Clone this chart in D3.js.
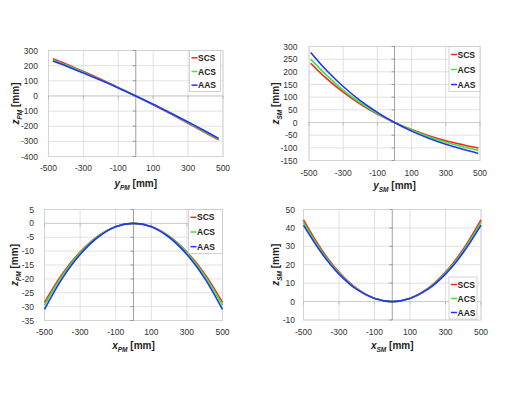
<!DOCTYPE html>
<html>
<head>
<meta charset="utf-8">
<script src="https://cdn.jsdelivr.net/npm/d3@7"></script>
<style>
  body { margin: 0; background: #fff; }
  svg { display: block; font-family: "Liberation Sans", Arial, sans-serif; }
</style>
</head>
<body>
<div id="chart"></div>
<script>
// Series names and colours
const seriesNames = ["SCS", "ACS", "AAS"];
const seriesColors = ["#ff2020", "#33ee33", "#2233ff"];

// Panel 1: z_PM vs y_PM
const pmYPos = [-475, -400, -300, -200, -100, 0, 100, 200, 300, 400, 475];
const pmYScs = [245, 211, 161, 110, 56, 0, -58, -118, -180, -244, -290];
const pmYAcs = [238, 204, 156, 106, 54, 0, -56, -115, -176, -238, -285];
const pmYAas = [230, 198, 151, 103, 53, 0, -55, -113, -172, -233, -280];

// Panel 2: z_SM vs y_SM
const smYPos = [-490, -400, -300, -200, -100, 0, 100, 200, 300, 400, 490];
const smYScs = [234, 175, 120, 73, 33, 0, -28, -52, -72, -88, -101];
const smYAcs = [250, 188, 128, 78, 36, 0, -30, -56, -78, -96, -110];
const smYAas = [276, 207, 142, 86, 40, 0, -34, -62, -86, -106, -122];

// Panel 3: z_PM vs x_PM
const pmXPos = [-500, -400, -300, -200, -100, 0, 100, 200, 300, 400, 500];
const pmXScs = [-28.5, -18.2, -10.3, -4.6, -1.1, 0, -1.1, -4.6, -10.3, -18.2, -28.5];
const pmXAcs = [-29.5, -18.9, -10.6, -4.7, -1.2, 0, -1.2, -4.7, -10.6, -18.9, -29.5];
const pmXAas = [-31, -19.8, -11.2, -5.0, -1.2, 0, -1.2, -5.0, -11.2, -19.8, -31];

// Panel 4: z_SM vs x_SM
const smXPos = [-500, -400, -300, -200, -100, 0, 100, 200, 300, 400, 500];
const smXScs = [44.3, 28.4, 16.0, 7.1, 1.8, 0, 1.8, 7.1, 16.0, 28.4, 44.3];
const smXAcs = [43, 27.5, 15.5, 6.9, 1.7, 0, 1.7, 6.9, 15.5, 27.5, 43];
const smXAas = [41.5, 26.6, 14.9, 6.6, 1.7, 0, 1.7, 6.6, 14.9, 26.6, 41.5];

// Tick values
const xTicks = [-500, -300, -100, 100, 300, 500];
const yTicks1 = [300, 200, 100, 0, -100, -200, -300, -400];
const yTicks2 = [300, 250, 200, 150, 100, 50, 0, -50, -100, -150];
const yTicks3 = [5, 0, -5, -10, -15, -20, -25, -30, -35];
const yTicks4 = [50, 40, 30, 20, 10, 0, -10];

const svg = d3.select("#chart").append("svg")
  .attr("width", 526)
  .attr("height", 395);

const panels = [
  { box: [48.5, 223, 50.5, 156.5], yDom: [-400, 300], yTicks: yTicks1,
    xs: pmYPos, ys: [pmYScs, pmYAcs, pmYAas], xVar: "y", yVar: "z", sub: "PM",
    yLabelRight: 38, xLabelY: 171, xTitleY: 187, yTitleX: 19,
    legend: [189.5, 50.5, 31, 41] },
  { box: [309, 480, 46.5, 160.5], yDom: [-150, 300], yTicks: yTicks2,
    xs: smYPos, ys: [smYScs, smYAcs, smYAas], xVar: "y", yVar: "z", sub: "SM",
    yLabelRight: 297.5, xLabelY: 176, xTitleY: 189, yTitleX: 279,
    legend: [449, 46.5, 31, 45] },
  { box: [44.5, 222.5, 209.5, 320.5], yDom: [-35, 5], yTicks: yTicks3,
    xs: pmXPos, ys: [pmXScs, pmXAcs, pmXAas], xVar: "x", yVar: "z", sub: "PM",
    yLabelRight: 34, xLabelY: 334.5, xTitleY: 349, yTitleX: 18,
    legend: [188.5, 209.5, 34, 44] },
  { box: [303.5, 481, 209.5, 320], yDom: [-10, 50], yTicks: yTicks4,
    xs: smXPos, ys: [smXScs, smXAcs, smXAas], xVar: "x", yVar: "z", sub: "SM",
    yLabelRight: 295, xLabelY: 334.5, xTitleY: 349, yTitleX: 279,
    legend: [449, 277, 28, 42] }
];

function axisTitle(sel, v, sub) {
  sel.append("tspan").attr("font-style", "italic").text(v);
  sel.append("tspan").attr("font-style", "italic").attr("font-size", "6.5px")
    .attr("dy", "2.5").text(sub);
  sel.append("tspan").attr("dy", "-2.5").text(" [mm]");
}

panels.forEach(p => {
  const [x0, x1, y0, y1] = p.box;
  const x = d3.scaleLinear().domain([-500, 500]).range([x0, x1]);
  const y = d3.scaleLinear().domain(p.yDom).range([y1, y0]);
  const g = svg.append("g");

  // gridlines
  g.selectAll(".hg").data(p.yTicks).enter().append("line")
    .attr("x1", x0).attr("x2", x1)
    .attr("y1", d => y(d)).attr("y2", d => y(d))
    .attr("stroke", "#d9d9d9").attr("stroke-width", 0.8);
  g.selectAll(".vg").data(xTicks).enter().append("line")
    .attr("x1", d => x(d)).attr("x2", d => x(d))
    .attr("y1", y0).attr("y2", y1)
    .attr("stroke", "#d9d9d9").attr("stroke-width", 0.8);

  // plot border
  g.append("rect")
    .attr("x", x0).attr("y", y0)
    .attr("width", x1 - x0).attr("height", y1 - y0)
    .attr("fill", "none").attr("stroke", "#d0d0d0").attr("stroke-width", 0.8);

  // horizontal axis at zero with small ticks
  g.append("line")
    .attr("x1", x0).attr("x2", x1).attr("y1", y(0)).attr("y2", y(0))
    .attr("stroke", "#c8c8c8").attr("stroke-width", 0.8);
  g.selectAll(".xt").data(xTicks).enter().append("line")
    .attr("x1", d => x(d)).attr("x2", d => x(d))
    .attr("y1", y(0)).attr("y2", y(0) + 3)
    .attr("stroke", "#b0b0b0").attr("stroke-width", 0.8);

  // vertical axis at zero
  g.append("line")
    .attr("x1", x(0)).attr("x2", x(0)).attr("y1", y0).attr("y2", y1)
    .attr("stroke", "#8a8a8a").attr("stroke-width", 0.8);
  g.selectAll(".yt").data(p.yTicks).enter().append("line")
    .attr("x1", x(0) - 3).attr("x2", x(0))
    .attr("y1", d => y(d)).attr("y2", d => y(d))
    .attr("stroke", "#8a8a8a").attr("stroke-width", 0.8);

  // tick labels
  g.selectAll(".yl").data(p.yTicks).enter().append("text")
    .attr("x", p.yLabelRight).attr("y", d => y(d) + 3)
    .attr("text-anchor", "end")
    .attr("font-size", "8.5px").attr("fill", "#333")
    .text(d => d);
  g.selectAll(".xl").data(xTicks).enter().append("text")
    .attr("x", d => x(d)).attr("y", p.xLabelY)
    .attr("text-anchor", "middle")
    .attr("font-size", "8.5px").attr("fill", "#333")
    .text(d => d);

  // axis titles
  const xt = g.append("text")
    .attr("x", x(0)).attr("y", p.xTitleY)
    .attr("text-anchor", "middle")
    .attr("font-size", "10px").attr("font-weight", "bold").attr("fill", "#222");
  axisTitle(xt, p.xVar, p.sub);
  const yt = g.append("text")
    .attr("transform", `translate(${p.yTitleX},${(y0 + y1) / 2}) rotate(-90)`)
    .attr("text-anchor", "middle")
    .attr("font-size", "10px").attr("font-weight", "bold").attr("fill", "#222");
  axisTitle(yt, p.yVar, p.sub);

  // data lines
  const line = d3.line()
    .x((d, i) => x(p.xs[i]))
    .y(d => y(d))
    .curve(d3.curveCatmullRom);
  p.ys.forEach((vals, i) => {
    g.append("path")
      .datum(vals)
      .attr("d", line)
      .attr("fill", "none")
      .attr("stroke", seriesColors[i])
      .attr("stroke-width", 1.6);
  });

  // legend
  const [lx, ly, lw, lh] = p.legend;
  const lg = g.append("g");
  lg.append("rect")
    .attr("x", lx).attr("y", ly).attr("width", lw).attr("height", lh)
    .attr("fill", "#fff").attr("stroke", "#c8c8c8").attr("stroke-width", 0.8);
  seriesNames.forEach((name, i) => {
    const cy = ly + lh * (i + 0.5) / 3 + 0.5;
    lg.append("line")
      .attr("x1", lx + 2).attr("x2", lx + 8)
      .attr("y1", cy).attr("y2", cy)
      .attr("stroke", seriesColors[i]).attr("stroke-width", 1.5);
    lg.append("text")
      .attr("x", lx + 8.5).attr("y", cy + 3)
      .attr("font-size", "8.5px").attr("font-weight", "bold").attr("fill", "#222")
      .text(name);
  });
});
</script>
</body>
</html>
